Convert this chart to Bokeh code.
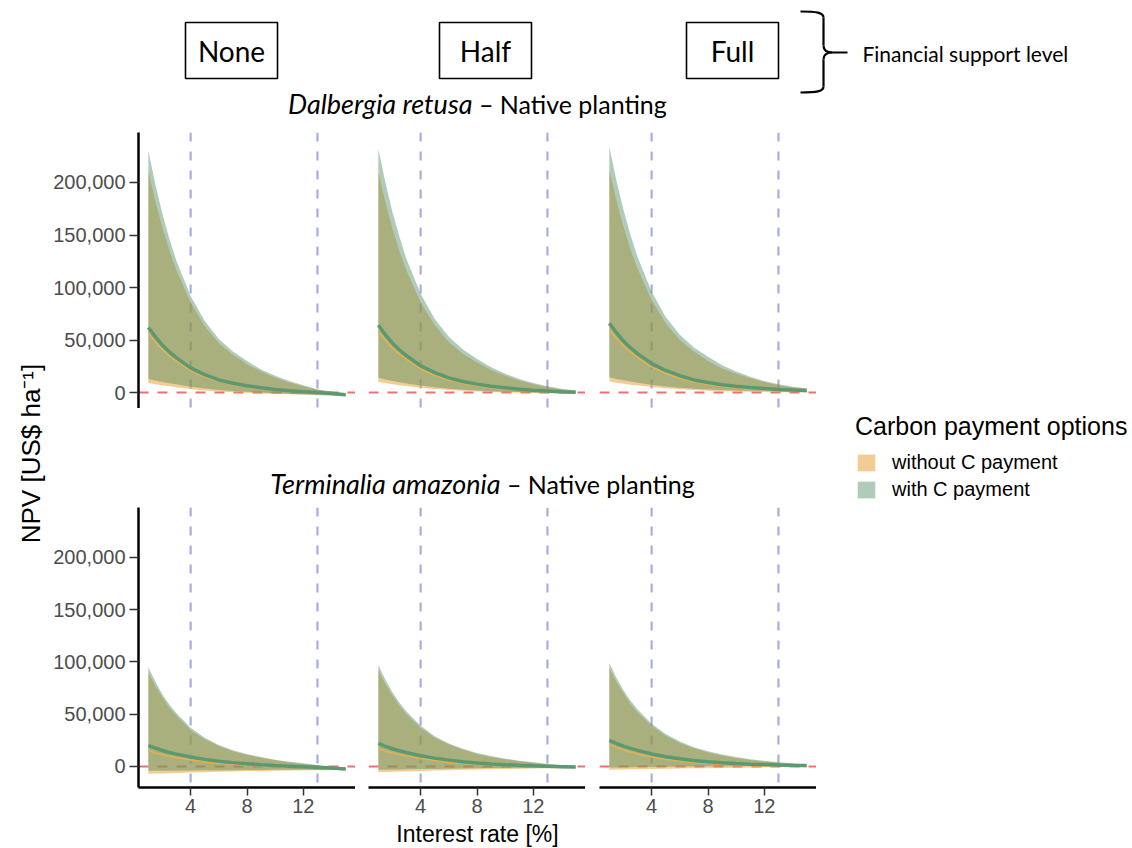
from bokeh.plotting import figure
from bokeh.models import (Range1d, LinearAxis, FixedTicker, NumeralTickFormatter, Span,
                          Label, BoxAnnotation, Legend, LegendItem, ColumnDataSource)
from bokeh.layouts import row, column
from bokeh.embed import file_html
from bokeh.resources import INLINE

# ---------------- data (NPV in thousand US$ per ha) ----------------
rates = [1, 1.5, 2, 2.5, 3, 4, 5, 6, 7, 8, 9, 10, 11, 12, 13, 14, 15]
ref_rates = [4, 13]
support_levels = ["None", "Half", "Full"]
species = ["Dalbergia retusa", "Terminalia amazonia"]
y_ticks = [0, 50000, 100000, 150000, 200000]
x_ticks = [4, 8, 12]
legend_labels = ["without C payment", "with C payment"]
legend_title = "Carbon payment options"

dal_none_mean_w = [62, 53, 45, 38.5, 33, 23.5, 17, 12, 8.8, 6.5, 4.5, 3, 1.8, 0.8, 0, -1, -2]
dal_none_low_w = [13, 11.5, 10, 8.8, 7.8, 5.5, 3.8, 2.5, 1.5, 0.7, 0, -0.6, -1.1, -1.6, -2, -2.5, -3]
dal_none_up_w = [230, 198, 170, 146, 125, 92, 68, 51, 39, 30, 22, 16, 11, 7, 3, 1, -1]
dal_none_mean_wo = [57, 48, 41, 35, 30, 21, 15, 10.5, 7.5, 5.3, 3.5, 2.2, 1, 0.2, -0.7, -1.5, -2.5]
dal_none_low_wo = [9, 8, 7, 6, 5, 3.2, 2, 1, 0.3, -0.3, -0.8, -1.3, -1.7, -2.1, -2.5, -2.9, -3.3]
dal_none_up_wo = [211, 182, 157, 135, 116, 86, 63, 47, 36, 27, 20, 14, 9.5, 6, 3, 0.5, -1.5]

dal_half_mean_w = [64, 55, 47, 40.5, 35, 25.5, 19, 14, 10.5, 8, 6, 4.5, 3.2, 2.2, 1.5, 0.8, 0.3]
dal_half_low_w = [14, 12.5, 11, 9.8, 8.7, 6.6, 5, 3.7, 2.7, 1.9, 1.3, 0.8, 0.4, 0.1, -0.1, -0.3, -0.4]
dal_half_up_w = [232, 200, 172, 148, 127, 94, 70, 53, 41, 32, 24, 18, 13, 9, 6, 3.5, 2]
dal_half_mean_wo = [58, 49.5, 42.5, 36.5, 31.5, 22.5, 16.5, 12, 8.8, 6.5, 4.7, 3.4, 2.3, 1.5, 0.9, 0.4, 0]
dal_half_low_wo = [10, 9, 8, 7, 6.2, 4.6, 3.4, 2.4, 1.6, 1, 0.5, 0.1, -0.2, -0.5, -0.7, -0.9, -1]
dal_half_up_wo = [210, 181, 156, 134, 116, 86, 64, 48, 37, 28.5, 21.5, 16, 11.5, 8, 5, 3, 1.5]

dal_full_mean_w = [66, 57, 49, 42.5, 37, 27.5, 21, 16, 12, 9.5, 7.5, 6, 4.8, 3.8, 3, 2.4, 2]
dal_full_low_w = [14.5, 13, 11.6, 10.4, 9.3, 7.3, 5.8, 4.6, 3.6, 2.9, 2.4, 2, 1.7, 1.5, 1.3, 1.2, 1.1]
dal_full_up_w = [234, 202, 174, 150, 129, 96, 72, 55, 43, 34, 26, 20, 15, 11, 8, 5.5, 4]
dal_full_mean_wo = [60, 51.5, 44.5, 38.5, 33.3, 24.2, 18, 13.5, 10, 7.7, 5.8, 4.5, 3.5, 2.7, 2.1, 1.6, 1.3]
dal_full_low_wo = [10.5, 9.4, 8.4, 7.5, 6.7, 5.2, 4, 3.1, 2.4, 1.8, 1.3, 1, 0.7, 0.5, 0.3, 0.2, 0.1]
dal_full_up_wo = [212, 183, 158, 136, 118, 88, 66, 50, 39, 30, 23, 18, 13.5, 10, 7, 5, 3]

ter_none_mean_w = [20, 17.5, 15.3, 13.4, 11.8, 9, 6.8, 5, 3.7, 2.6, 1.7, 0.9, 0.3, -0.3, -0.9, -1.5, -2.5]
ter_none_low_w = [-4, -4, -4, -4, -4, -3.8, -3.7, -3.6, -3.5, -3.4, -3.3, -3.2, -3.1, -3, -3, -3, -3.2]
ter_none_up_w = [95, 81, 69, 59, 51, 37, 27.5, 20.5, 15.5, 12, 9, 6.5, 4.5, 3, 1.5, 0, -1]
ter_none_mean_wo = [15, 13, 11.3, 9.8, 8.5, 6.3, 4.6, 3.2, 2.2, 1.3, 0.6, 0, -0.5, -1, -1.5, -2, -2.8]
ter_none_low_wo = [-7, -6.8, -6.6, -6.4, -6.2, -5.8, -5.4, -5, -4.7, -4.4, -4.2, -4, -3.8, -3.6, -3.5, -3.4, -3.4]
ter_none_up_wo = [90, 77, 66, 56, 48.5, 35, 26, 19.5, 14.5, 11, 8.3, 6, 4, 2.5, 1, -0.3, -1.3]

ter_half_mean_w = [22, 19.3, 17, 15, 13.3, 10.3, 8, 6.1, 4.6, 3.4, 2.5, 1.7, 1.1, 0.6, 0.2, -0.2, -0.6]
ter_half_low_w = [-3, -3, -2.9, -2.8, -2.7, -2.5, -2.3, -2.1, -1.9, -1.7, -1.5, -1.4, -1.3, -1.2, -1.1, -1, -1]
ter_half_up_w = [97, 83, 71, 61, 52.5, 39, 29, 22, 17, 13, 10, 7.5, 5.5, 4, 2.5, 1.5, 0.5]
ter_half_mean_wo = [17, 14.8, 13, 11.4, 10, 7.6, 5.7, 4.2, 3, 2.1, 1.4, 0.8, 0.3, -0.1, -0.4, -0.7, -1]
ter_half_low_wo = [-5.5, -5.3, -5.1, -4.9, -4.7, -4.3, -3.9, -3.5, -3.2, -2.9, -2.6, -2.4, -2.2, -2, -1.8, -1.6, -1.5]
ter_half_up_wo = [92, 79, 68, 58, 50, 37, 27.5, 21, 16, 12, 9.2, 7, 5, 3.5, 2, 1, 0]

ter_full_mean_w = [25, 22, 19.5, 17.3, 15.4, 12, 9.4, 7.4, 5.8, 4.6, 3.6, 2.8, 2.2, 1.8, 1.4, 1.1, 0.9]
ter_full_low_w = [-1, -0.9, -0.8, -0.7, -0.6, -0.4, -0.2, 0, 0.1, 0.2, 0.3, 0.4, 0.4, 0.5, 0.5, 0.5, 0.5]
ter_full_up_w = [99, 85, 73, 63, 54.5, 41, 31, 24, 18.5, 14.5, 11.5, 9, 7, 5.5, 4, 3, 2]
ter_full_mean_wo = [21, 18.2, 15.8, 13.8, 12, 9.2, 7, 5.3, 4, 3, 2.2, 1.6, 1.1, 0.8, 0.5, 0.3, 0.1]
ter_full_low_wo = [-3, -2.9, -2.8, -2.7, -2.6, -2.4, -2.2, -2, -1.8, -1.6, -1.4, -1.2, -1, -0.8, -0.6, -0.5, -0.4]
ter_full_up_wo = [94, 81, 70, 60, 52, 39, 29.5, 22.5, 17.5, 13.5, 10.5, 8.2, 6.3, 4.8, 3.5, 2.5, 1.5]

panels = [
    [  # Dalbergia retusa
        (dal_none_mean_w, dal_none_low_w, dal_none_up_w, dal_none_mean_wo, dal_none_low_wo, dal_none_up_wo),
        (dal_half_mean_w, dal_half_low_w, dal_half_up_w, dal_half_mean_wo, dal_half_low_wo, dal_half_up_wo),
        (dal_full_mean_w, dal_full_low_w, dal_full_up_w, dal_full_mean_wo, dal_full_low_wo, dal_full_up_wo),
    ],
    [  # Terminalia amazonia
        (ter_none_mean_w, ter_none_low_w, ter_none_up_w, ter_none_mean_wo, ter_none_low_wo, ter_none_up_wo),
        (ter_half_mean_w, ter_half_low_w, ter_half_up_w, ter_half_mean_wo, ter_half_low_wo, ter_half_up_wo),
        (ter_full_mean_w, ter_full_low_w, ter_full_up_w, ter_full_mean_wo, ter_full_low_wo, ter_full_up_wo),
    ],
]

# ---------------- styles ----------------
ORANGE = "#E8A33A"
GREEN = "#508C64"
A_WO = 0.55
A_W = 0.45
LINE_W = "#5B9A70"
LINE_WO = "#E6B050"
REF_COLOR = "#A8ADE0"
ZERO_COLOR = "#EC7272"
PLOT_FONT = "Liberation Sans"
HEAD_FONT = "Lato"

X_RANGE = (0.3, 15.7)
ROW_FRAME_H = [276, 280]
ROW_Y_RANGE = [(-15200, 247600), (-20100, 247800)]
BOTTOM_BORDER = 33
XLAB_H = 27
HEADER_H = 132
STRIP_H = 99
TOTAL_W = 1130
LEFT_W = 50
TOTAL_H = HEADER_H + ROW_FRAME_H[0] + STRIP_H + ROW_FRAME_H[1] + BOTTOM_BORDER + XLAB_H


def k(vals):
    return [v * 1000 for v in vals]


def bare(width, height, xr, yr):
    p = figure(width=width, height=height, x_range=Range1d(*xr), y_range=Range1d(*yr),
               toolbar_location=None, output_backend="svg",
               x_axis_location=None, y_axis_location=None,
               min_border_left=0, min_border_right=0, min_border_top=0, min_border_bottom=0)
    p.grid.visible = False
    p.outline_line_color = None
    p.background_fill_color = "white"
    p.border_fill_color = "white"
    return p


def style_axis(ax):
    ax.axis_line_color = "black"
    ax.axis_line_width = 2.5
    ax.major_tick_line_color = "#333333"
    ax.major_tick_line_width = 1.5
    ax.major_tick_in = 0
    ax.minor_tick_line_color = None
    ax.major_label_text_font = PLOT_FONT
    ax.major_label_text_font_size = "20px"
    ax.major_label_text_color = "#4D4D4D"


def make_panel(series, width, mbl, r, left_axis):
    bottom_row = (r == 1)
    mbb = BOTTOM_BORDER if bottom_row else 0
    p = figure(width=width, height=ROW_FRAME_H[r] + mbb, x_range=Range1d(*X_RANGE),
               y_range=Range1d(*ROW_Y_RANGE[r]),
               toolbar_location=None, output_backend="svg",
               x_axis_location=None, y_axis_location=None,
               min_border_left=mbl, min_border_right=0, min_border_top=0, min_border_bottom=mbb)
    p.grid.visible = False
    p.outline_line_color = None
    p.background_fill_color = "white"
    p.border_fill_color = "white"

    for rr in ref_rates:
        p.add_layout(Span(location=rr, dimension="height", line_color=REF_COLOR,
                          line_width=2.2, line_dash="9 10", level="underlay"))
    p.add_layout(Span(location=0, dimension="width", line_color=ZERO_COLOR,
                      line_width=2, line_dash="10 9", level="underlay"))

    mean_w, low_w, up_w, mean_wo, low_wo, up_wo = series
    src = ColumnDataSource(dict(x=rates, mean_w=k(mean_w), low_w=k(low_w), up_w=k(up_w),
                                mean_wo=k(mean_wo), low_wo=k(low_wo), up_wo=k(up_wo)))
    p.varea(x="x", y1="low_wo", y2="up_wo", source=src, fill_color=ORANGE, fill_alpha=A_WO)
    p.varea(x="x", y1="low_w", y2="up_w", source=src, fill_color=GREEN, fill_alpha=A_W)
    p.line(x="x", y="mean_wo", source=src, line_color=LINE_WO, line_width=1.6)
    p.line(x="x", y="mean_w", source=src, line_color=LINE_W, line_width=3.5)

    if left_axis:
        ax = LinearAxis(ticker=FixedTicker(ticks=y_ticks), formatter=NumeralTickFormatter(format="0,0"))
        style_axis(ax)
        ax.major_tick_out = 9
        ax.major_label_standoff = 4
        p.add_layout(ax, "left")
    if bottom_row:
        ax = LinearAxis(ticker=FixedTicker(ticks=x_ticks))
        style_axis(ax)
        ax.major_tick_out = 8
        ax.major_label_standoff = 3
        p.add_layout(ax, "below")
    return p


widths = [(305, 88), (230, 13), (231, 14)]
row1 = [make_panel(panels[0][i], widths[i][0], widths[i][1], 0, i == 0) for i in range(3)]
row2 = [make_panel(panels[1][i], widths[i][0], widths[i][1], 1, i == 0) for i in range(3)]
PANELS_W = sum(w for w, _ in widths)

# ---------------- header (support levels + first strip title) ----------------
HW = TOTAL_W - LEFT_W
header = bare(HW, HEADER_H, (0, HW), (0, HEADER_H))


def hx(ix):
    return ix - LEFT_W


def hy(iy):
    return HEADER_H - iy


box_x = [(185, 277), (439, 531), (686, 778)]
for (l, r), lab in zip(box_x, support_levels):
    header.add_layout(BoxAnnotation(left=hx(l), right=hx(r), top=hy(22), bottom=hy(78),
                                    fill_alpha=0, line_color="black", line_alpha=1, line_width=1.6))
    header.add_layout(Label(x=hx((l + r) / 2), y=hy(50), text=lab, text_align="center",
                            text_baseline="middle", text_font=HEAD_FONT, text_font_size="28px",
                            text_color="black"))

# curly brace
bx, top, bot, mid = 823, 11, 92, 52
header.bezier(x0=[hx(800), hx(bx), hx(bx + 9), hx(bx)],
              y0=[hy(top), hy(mid - 7), hy(mid), hy(bot - 6)],
              x1=[hx(bx), hx(bx + 9), hx(bx), hx(800)],
              y1=[hy(top + 6), hy(mid), hy(mid + 7), hy(bot)],
              cx0=[hx(816), hx(bx), hx(bx + 3), hx(bx)],
              cy0=[hy(top), hy(mid - 2), hy(mid), hy(bot - 1)],
              cx1=[hx(bx), hx(bx + 3), hx(bx), hx(816)],
              cy1=[hy(top + 1), hy(mid), hy(mid + 2), hy(bot)],
              line_color="black", line_width=2.2)
header.segment(x0=[hx(bx), hx(bx), hx(bx + 9)], y0=[hy(top + 6), hy(mid + 7), hy(mid)],
               x1=[hx(bx), hx(bx), hx(847)], y1=[hy(mid - 7), hy(bot - 6), hy(mid)],
               line_color="black", line_width=2.2)
header.add_layout(Label(x=hx(862), y=hy(53), text="Financial support level", text_align="left",
                        text_baseline="middle", text_font=HEAD_FONT, text_font_size="21px",
                        text_color="black"))


def strip_title(p, xsplit, yc, sp):
    p.add_layout(Label(x=xsplit, y=yc, text=sp, text_align="right", text_baseline="middle",
                       text_font=HEAD_FONT, text_font_size="27px", text_font_style="italic",
                       text_color="black"))
    p.add_layout(Label(x=xsplit, y=yc, text="\u00a0\u2013 Native planting", text_align="left",
                       text_baseline="middle", text_font=HEAD_FONT, text_font_size="25px",
                       text_color="black"))


strip_title(header, hx(472), hy(103), species[0])

# second strip title (image y 408..507)
ROW2_TOP = HEADER_H + ROW_FRAME_H[0] + STRIP_H
strip2 = bare(PANELS_W, STRIP_H, (0, PANELS_W), (0, STRIP_H))
strip_title(strip2, 500 - LEFT_W, ROW2_TOP - 483, species[1])

# x-axis title (below the bottom panels)
xlab = bare(PANELS_W, XLAB_H, (0, PANELS_W), (0, XLAB_H))
xlab.add_layout(Label(x=477 - LEFT_W, y=XLAB_H / 2, text="Interest rate [%]", text_align="center",
                      text_baseline="middle", text_font=PLOT_FONT, text_font_size="23px",
                      text_color="black"))

# y-axis title
ylab = bare(LEFT_W, TOTAL_H, (0, LEFT_W), (0, TOTAL_H))
ylab.add_layout(Label(x=30, y=TOTAL_H - 453, text="NPV [US$ ha\u207b\u00b9]", angle=1.5707963,
                      text_align="center", text_baseline="middle", text_font=PLOT_FONT,
                      text_font_size="26px", text_color="black"))

# legend
LEG_W = TOTAL_W - LEFT_W - PANELS_W
LEG_H = TOTAL_H - HEADER_H
leg_fig = bare(LEG_W, LEG_H, (0, 1), (0, 1))
r_wo = leg_fig.varea(x=[5, 6], y1=[5, 5], y2=[6, 6], fill_color=ORANGE, fill_alpha=A_WO)
r_w = leg_fig.varea(x=[5, 6], y1=[5, 5], y2=[6, 6], fill_color=GREEN, fill_alpha=A_W)
legend = Legend(items=[LegendItem(label=legend_labels[0], renderers=[r_wo]),
                       LegendItem(label=legend_labels[1], renderers=[r_w])],
                title=legend_title, location=(855 - 816, TOTAL_H - 501),
                border_line_color=None, background_fill_alpha=0, padding=0, margin=0,
                spacing=4, glyph_width=22, glyph_height=21, label_height=21,
                label_standoff=15, title_standoff=10,
                title_text_font=PLOT_FONT, title_text_font_size="25px", title_text_font_style="normal",
                title_text_color="black",
                label_text_font=PLOT_FONT, label_text_font_size="20px", label_text_color="black")
leg_fig.add_layout(legend)

body = row(column(row(*row1), strip2, row(*row2), xlab), leg_fig)
layout = row(ylab, column(header, body))

open("out.html", "w").write(file_html(layout, INLINE))
